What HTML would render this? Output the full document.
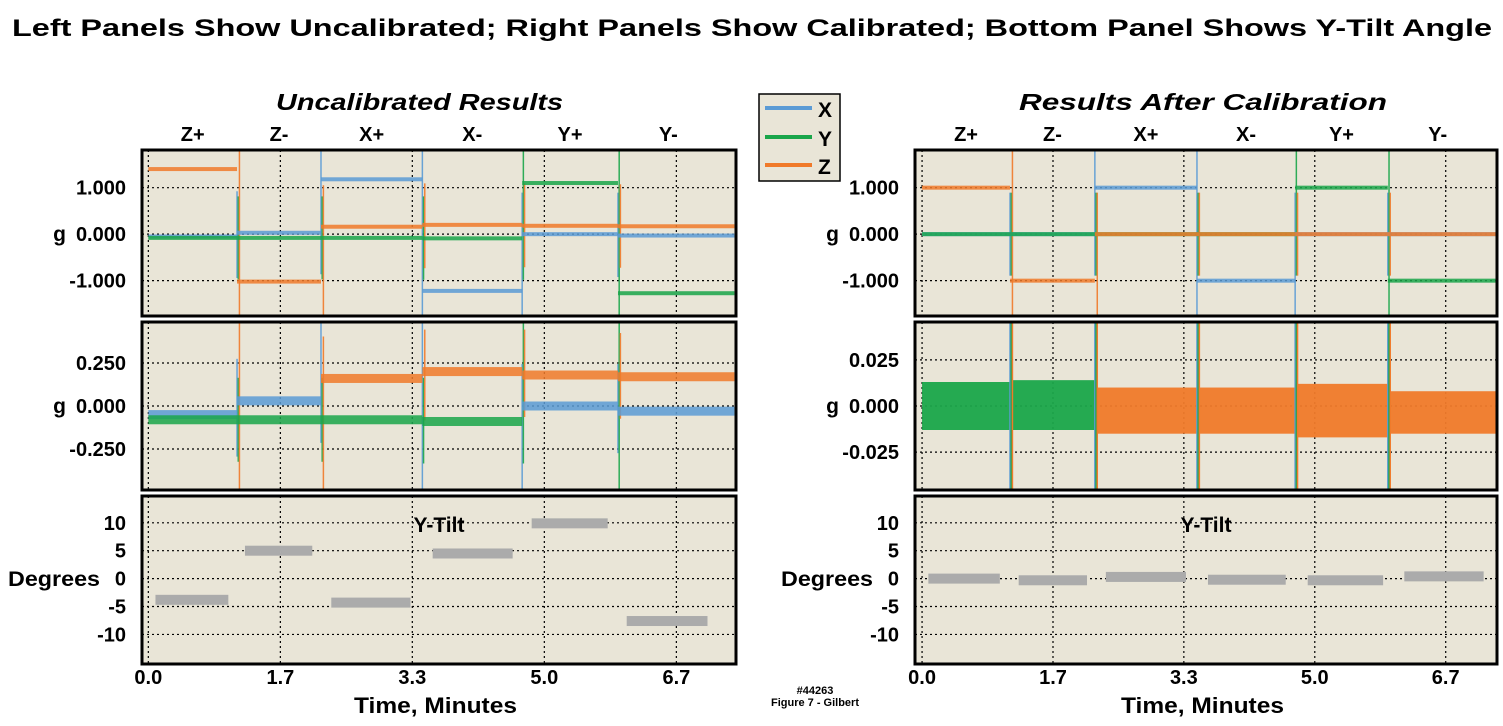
<!DOCTYPE html>
<html><head><meta charset="utf-8"><style>
body{margin:0;background:#fff;}
svg{display:block;font-family:"Liberation Sans",sans-serif;font-weight:bold;}
</style></head><body>
<svg id="chart" width="1503" height="726" viewBox="0 0 1503 726">
<text x="12" y="36" font-size="24" textLength="1480" lengthAdjust="spacingAndGlyphs">Left Panels Show Uncalibrated; Right Panels Show Calibrated; Bottom Panel Shows Y-Tilt Angle</text>
<text x="276" y="110" font-size="23" font-style="italic" textLength="287" lengthAdjust="spacingAndGlyphs">Uncalibrated  Results</text>
<text x="1019" y="110" font-size="23" font-style="italic" textLength="368" lengthAdjust="spacingAndGlyphs">Results  After  Calibration</text>
<g>
<rect x="759" y="94" width="81" height="87" fill="#e9e5d7" stroke="#000" stroke-width="1.5"/>
<line x1="765" y1="108" x2="812" y2="108" stroke="#5b9bd5" stroke-width="4"/><text x="818" y="117" font-size="21">X</text>
<line x1="765" y1="137" x2="812" y2="137" stroke="#1aa64a" stroke-width="4"/><text x="818" y="146" font-size="21">Y</text>
<line x1="765" y1="165" x2="812" y2="165" stroke="#f07a2a" stroke-width="4"/><text x="818" y="174" font-size="21">Z</text>
</g>
<text x="815" y="694" font-size="11" text-anchor="middle">#44263</text>
<text x="815" y="706" font-size="11" text-anchor="middle">Figure 7 - Gilbert</text>
</svg>
<script>
const orientations=["Z+","Z-","X+","X-","Y+","Y-"];
const timeTicks=[0,1.667,3.333,5,6.667];
const timeTickLabels=["0.0","1.7","3.3","5.0","6.7"];
const segStartL=[0,1.12,2.18,3.46,4.72,5.93];
const segEndL=[1.12,2.18,3.46,4.72,5.93,7.4];
const segStartR=[0,1.12,2.2,3.5,4.75,5.93];
const segEndR=[1.12,2.2,3.5,4.75,5.93,7.32];
const uncalX=[-0.05,0.03,1.18,-1.22,0.0,-0.03];
const uncalY=[-0.08,-0.08,-0.08,-0.09,1.10,-1.27];
const uncalZ=[1.40,-1.02,0.16,0.20,0.18,0.17];
const calX=[0,0,1,-1,0,0];
const calY=[0,0,0,0,1,-1];
const calZ=[1,-1,0,0,0,0];
const calBandLo=[-0.013,-0.013,-0.015,-0.015,-0.017,-0.015];
const calBandHi=[0.013,0.014,0.010,0.010,0.012,0.008];
const tiltL=[-3.8,5,-4.3,4.5,9.9,-7.6];
const tiltStartL=[0.09,1.22,2.31,3.59,4.84,6.04];
const tiltEndL=[1.01,2.07,3.31,4.6,5.8,7.06];
const tiltR=[0,-0.3,0.3,-0.2,-0.3,0.4];
const tiltStartR=[0.08,1.23,2.34,3.64,4.91,6.14];
const tiltEndR=[0.99,2.1,3.36,4.63,5.87,7.15];
const topTicks=[1,0,-1],topLabels=["1.000","0.000","-1.000"];
const midTicksL=[0.25,0,-0.25],midLabelsL=["0.250","0.000","-0.250"];
const midTicksR=[0.025,0,-0.025],midLabelsR=["0.025","0.000","-0.025"];
const tiltTicks=[10,5,0,-5,-10],tiltLabels=["10","5","0","-5","-10"];

const NS="http://www.w3.org/2000/svg",svg=document.getElementById('chart');
const C={X:"#5b9bd5",Y:"#1aa64a",Z:"#f07a2a"};
function mk(t,a,p){const e=document.createElementNS(NS,t);for(const k in a)e.setAttribute(k,a[k]);(p||svg).appendChild(e);return e;}
function panel(name,x0,x1,y0,y1,tmin,tmax,vmin,vmax){
 const g=mk('g',{});
 
 
 mk('rect',{x:x0,y:y0,width:x1-x0,height:y1-y0,fill:"#e9e5d7"},g);
 const sx=t=>x0+(t-tmin)/(tmax-tmin)*(x1-x0);
 const sy=v=>y1-(v-vmin)/(vmax-vmin)*(y1-y0);
 const clip=mk('clipPath',{id:'c'+name},g);mk('rect',{x:x0,y:y0,width:x1-x0,height:y1-y0},clip);
 const inner=mk('g',{'clip-path':'url(#c'+name+')'},g);
 return {g,inner,sx,sy,x0,x1,y0,y1};
}
function grid(P,yt,yl,labX,ylabel,ylabY){
 timeTicks.forEach(t=>{mk('line',{x1:P.sx(t),x2:P.sx(t),y1:P.y0,y2:P.y1,stroke:"#000","stroke-width":1.2,"stroke-dasharray":"2,3"},P.inner);});
 yt.forEach((v,i)=>{mk('line',{x1:P.x0,x2:P.x1,y1:P.sy(v),y2:P.sy(v),stroke:"#000","stroke-width":1.2,"stroke-dasharray":"2,3"},P.inner);
  const t=mk('text',{x:labX,y:P.sy(v)+7,'font-size':20,'text-anchor':'end'},P.g);t.textContent=yl[i];
  
  });
 const l=mk('text',{x:ylabel[0],y:ylabY+7,'font-size':21,'text-anchor':'end'},P.g);l.textContent=ylabel[1];
 if(ylabel[1].length>1){l.setAttribute('textLength',92);l.setAttribute('lengthAdjust','spacingAndGlyphs');}
 
 
}
function frame(P){mk('rect',{x:P.x0,y:P.y0,width:P.x1-P.x0,height:P.y1-P.y0,fill:"none",stroke:"#000","stroke-width":3},P.g);}
function traces(P,ss,se,series,noise){
 ss.slice(1).forEach((t,i)=>{
  ['X','Y','Z'].forEach((k,j)=>{const x=P.sx(t)+j*1.2;const v0=series[k][i],v1=series[k][i+1];
   const lo=Math.min(v0,v1),hi=Math.max(v0,v1);const r=(P.y1-P.y0);
   const a=mk('line',{x1:x,x2:x,y1:P.sy(hi)-r*0.25,y2:P.sy(lo)+r*0.25,stroke:C[k],"stroke-width":1.5,opacity:0.9},P.inner);
   
   });
 });
 ['X','Y','Z'].forEach(k=>{series[k].forEach((v,i)=>{
  const r=mk('rect',{x:P.sx(ss[i]),width:P.sx(se[i])-P.sx(ss[i]),y:P.sy(v)-noise/2,height:noise,fill:C[k],opacity:0.85},P.inner);
  
  });});
}
function tilt(P,vals,st,en){vals.forEach((v,i)=>{
 const r=mk('rect',{x:P.sx(st[i]),width:P.sx(en[i])-P.sx(st[i]),y:P.sy(v)-5,height:10,fill:"#ababab"},P.inner);
 
 });
 const t=mk('text',{x:(P.x0+P.x1)/2,y:P.sy(10)+9,'font-size':21,'text-anchor':'middle'},P.g);t.textContent="Y-Tilt";
 
 }
function xaxis(P,cx){
 timeTicks.forEach((t,i)=>{const e=mk('text',{x:P.sx(t),y:684,'font-size':20,'text-anchor':'middle'});e.textContent=timeTickLabels[i];
 
 });
 const e=mk('text',{x:cx-82,y:713,'font-size':22,textLength:163,lengthAdjust:'spacingAndGlyphs'});e.textContent="Time,  Minutes";
 
 
 orientations.forEach((o,i)=>{const ss=P.ss,se=P.se;const e2=mk('text',{x:P.sx((ss[i]+Math.min(se[i],7.2))/2),y:141,'font-size':20,'text-anchor':'middle'});e2.textContent=o;
 
 });
}
const LT=[-0.08,7.42],RT=[-0.09,7.32];
let p=panel('left-top-panel',142,736,150,316,LT[0],LT[1],-1.76,1.81);
grid(p,topTicks,topLabels,126,[66,'g'],234);traces(p,segStartL,segEndL,{X:uncalX,Y:uncalY,Z:uncalZ},4);frame(p);
p=panel('left-mid-panel',142,736,322,490,LT[0],LT[1],-0.488,0.488);
grid(p,midTicksL,midLabelsL,126,[66,'g'],406);traces(p,segStartL,segEndL,{X:uncalX,Y:uncalY,Z:uncalZ},9);frame(p);
p=panel('left-tilt-panel',142,736,496,664,LT[0],LT[1],-15.3,14.8);
grid(p,tiltTicks,tiltLabels,126,[100,'Degrees'],579);tilt(p,tiltL,tiltStartL,tiltEndL);frame(p);
p.ss=segStartL;p.se=segEndL;xaxis(p,436);
p=panel('right-top-panel',915,1497,150,316,RT[0],RT[1],-1.76,1.81);
grid(p,topTicks,topLabels,899,[839,'g'],234);traces(p,segStartR,segEndR,{X:calX,Y:calY,Z:calZ},4);frame(p);
p=panel('right-mid-panel',915,1497,322,490,RT[0],RT[1],-0.0455,0.0455);
grid(p,midTicksR,midLabelsR,899,[839,'g'],406);
segStartR.forEach((s,i)=>{const r=mk('rect',{x:p.sx(s),width:p.sx(segEndR[i])-p.sx(s),y:p.sy(calBandHi[i]),height:p.sy(calBandLo[i])-p.sy(calBandHi[i]),fill:i<2?C.Y:C.Z,opacity:0.95},p.inner);
 
 });
segStartR.slice(1).forEach(t=>{['X','Y','Z'].forEach((k,j)=>{const x=p.sx(t)+j*1.2;const l=mk('line',{x1:x,x2:x,y1:p.y0,y2:p.y1,stroke:C[k],"stroke-width":1.5},p.inner);
 
 });});
frame(p);
p=panel('right-tilt-panel',915,1497,496,664,RT[0],RT[1],-15.3,14.8);
grid(p,tiltTicks,tiltLabels,899,[873,'Degrees'],579);tilt(p,tiltR,tiltStartR,tiltEndR);frame(p);
p.ss=segStartR;p.se=segEndR;xaxis(p,1203);
</script>
</body></html>
